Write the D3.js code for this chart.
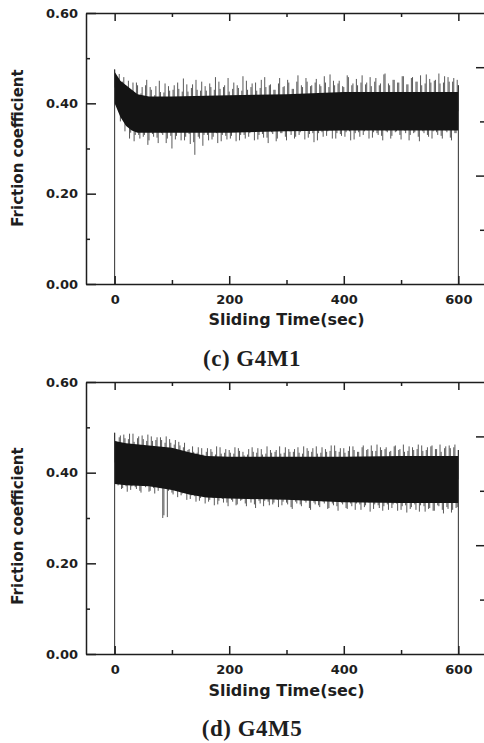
<!DOCTYPE html>
<html>
<head>
<meta charset="utf-8">
<script src="https://cdn.jsdelivr.net/npm/d3@7"></script>
<style>
    body { margin: 0; background: #fff; }
    .tick text { font-family: "DejaVu Sans", sans-serif; font-weight: bold; font-size: 13px; fill: #1e1e1e; }
    .axis path, .axis line { stroke: #1e1e1e; stroke-width: 1.5px; }
</style>
</head>
<body>
<div id="chart"></div>
<script>
// Tick values and captions
const xMajorTicks = [0, 200, 400, 600];
const xMinorTicks = [100, 300, 500];
const yMajorTicks = [0, 0.2, 0.4, 0.6];
const yMinorTicks = [0.1, 0.3, 0.5];
const neighbourMajorTicks = [0.2, 0.4];
const neighbourMinorTicks = [0.1, 0.3];
const captions = ["(c) G4M1", "(d) G4M5"];

// Friction trace.
// "a" readings at t = 0, 4, 8 ... 600 sec, "b" readings at t = 2, 6, 10 ... 598 sec
const sampleStep = 4;
const traceG4M1a = [
    0.475, 0.400, 0.465, 0.372, 0.458, 0.352, 0.450, 0.335, 0.446, 0.330,
    0.440, 0.322, 0.436, 0.330, 0.452, 0.318, 0.430, 0.326, 0.438, 0.312,
    0.425, 0.330, 0.444, 0.322, 0.428, 0.300, 0.440, 0.328, 0.432, 0.318,
    0.455, 0.326, 0.426, 0.310, 0.442, 0.286, 0.430, 0.322, 0.448, 0.330,
    0.428, 0.318, 0.436, 0.326, 0.458, 0.312, 0.432, 0.330, 0.440, 0.320,
    0.426, 0.328, 0.446, 0.316, 0.434, 0.330, 0.460, 0.322, 0.430, 0.334,
    0.444, 0.318, 0.428, 0.330, 0.452, 0.324, 0.436, 0.312, 0.442, 0.332,
    0.430, 0.322, 0.456, 0.334, 0.438, 0.318, 0.446, 0.330, 0.432, 0.326,
    0.462, 0.336, 0.436, 0.320, 0.448, 0.332, 0.440, 0.314, 0.454, 0.334,
    0.438, 0.326, 0.446, 0.338, 0.464, 0.322, 0.440, 0.334, 0.450, 0.328,
    0.436, 0.336, 0.458, 0.318, 0.444, 0.334, 0.440, 0.326, 0.462, 0.338,
    0.446, 0.322, 0.438, 0.336, 0.456, 0.330, 0.444, 0.318, 0.466, 0.336,
    0.440, 0.328, 0.452, 0.338, 0.446, 0.320, 0.460, 0.334, 0.442, 0.330,
    0.458, 0.336, 0.448, 0.316, 0.440, 0.334, 0.464, 0.326, 0.446, 0.338,
    0.452, 0.330, 0.444, 0.322, 0.460, 0.336, 0.448, 0.318, 0.456, 0.334,
    0.440
];
const traceG4M1b = [
    0.440, 0.455, 0.360, 0.448, 0.338, 0.436, 0.322, 0.428, 0.316, 0.446,
    0.330, 0.422, 0.326, 0.440, 0.308, 0.436, 0.332, 0.418, 0.324, 0.450,
    0.334, 0.424, 0.312, 0.438, 0.328, 0.430, 0.320, 0.446, 0.336, 0.426,
    0.318, 0.442, 0.332, 0.434, 0.314, 0.452, 0.326, 0.428, 0.306, 0.438,
    0.330, 0.444, 0.320, 0.430, 0.334, 0.448, 0.316, 0.436, 0.328, 0.456,
    0.322, 0.432, 0.336, 0.440, 0.318, 0.428, 0.330, 0.450, 0.326, 0.436,
    0.338, 0.446, 0.320, 0.434, 0.332, 0.458, 0.324, 0.440, 0.336, 0.430,
    0.316, 0.444, 0.334, 0.436, 0.326, 0.452, 0.338, 0.432, 0.322, 0.448,
    0.330, 0.440, 0.340, 0.456, 0.324, 0.438, 0.334, 0.446, 0.318, 0.442,
    0.336, 0.460, 0.328, 0.436, 0.340, 0.450, 0.322, 0.444, 0.332, 0.438,
    0.326, 0.462, 0.338, 0.440, 0.320, 0.454, 0.336, 0.446, 0.330, 0.442,
    0.340, 0.458, 0.324, 0.448, 0.334, 0.440, 0.328, 0.464, 0.338, 0.444,
    0.322, 0.452, 0.336, 0.446, 0.330, 0.460, 0.340, 0.442, 0.318, 0.456,
    0.334, 0.448, 0.326, 0.462, 0.338, 0.444, 0.330, 0.454, 0.322, 0.450,
    0.336, 0.466, 0.328, 0.446, 0.340, 0.458, 0.324, 0.448, 0.334, 0.452
];
const traceG4M5a = [
    0.488, 0.376, 0.478, 0.364, 0.484, 0.370, 0.474, 0.362, 0.486, 0.368,
    0.476, 0.360, 0.482, 0.372, 0.470, 0.358, 0.480, 0.366, 0.472, 0.360,
    0.478, 0.300, 0.466, 0.302, 0.474, 0.356, 0.462, 0.362, 0.468, 0.350,
    0.456, 0.356, 0.450, 0.342, 0.458, 0.348, 0.444, 0.338, 0.454, 0.346,
    0.446, 0.336, 0.452, 0.344, 0.440, 0.330, 0.456, 0.342, 0.444, 0.334,
    0.450, 0.340, 0.442, 0.328, 0.454, 0.338, 0.446, 0.332, 0.440, 0.342,
    0.456, 0.330, 0.444, 0.338, 0.452, 0.326, 0.442, 0.336, 0.450, 0.330,
    0.446, 0.340, 0.458, 0.328, 0.444, 0.334, 0.452, 0.324, 0.446, 0.336,
    0.456, 0.330, 0.442, 0.338, 0.454, 0.322, 0.446, 0.334, 0.458, 0.328,
    0.444, 0.336, 0.452, 0.320, 0.448, 0.332, 0.460, 0.326, 0.446, 0.334,
    0.454, 0.322, 0.448, 0.332, 0.458, 0.318, 0.446, 0.330, 0.456, 0.324,
    0.450, 0.334, 0.460, 0.320, 0.448, 0.328, 0.456, 0.316, 0.452, 0.330,
    0.446, 0.322, 0.458, 0.332, 0.450, 0.318, 0.462, 0.328, 0.448, 0.320,
    0.456, 0.330, 0.452, 0.314, 0.460, 0.326, 0.450, 0.320, 0.458, 0.316,
    0.452, 0.328, 0.462, 0.318, 0.454, 0.324, 0.460, 0.312, 0.456, 0.322,
    0.450
];
const traceG4M5b = [
    0.470, 0.372, 0.482, 0.366, 0.476, 0.358, 0.486, 0.370, 0.468, 0.364,
    0.480, 0.356, 0.474, 0.368, 0.484, 0.360, 0.470, 0.354, 0.478, 0.366,
    0.472, 0.306, 0.480, 0.360, 0.466, 0.352, 0.472, 0.346, 0.460, 0.354,
    0.466, 0.340, 0.452, 0.350, 0.446, 0.336, 0.456, 0.344, 0.440, 0.332,
    0.454, 0.340, 0.446, 0.328, 0.458, 0.338, 0.442, 0.334, 0.452, 0.326,
    0.444, 0.336, 0.456, 0.330, 0.448, 0.340, 0.438, 0.326, 0.452, 0.334,
    0.446, 0.322, 0.454, 0.332, 0.440, 0.338, 0.458, 0.328, 0.444, 0.334,
    0.450, 0.324, 0.442, 0.336, 0.456, 0.330, 0.446, 0.320, 0.452, 0.332,
    0.444, 0.326, 0.458, 0.334, 0.448, 0.318, 0.454, 0.330, 0.442, 0.324,
    0.456, 0.332, 0.446, 0.322, 0.460, 0.328, 0.448, 0.316, 0.454, 0.330,
    0.444, 0.320, 0.458, 0.326, 0.450, 0.332, 0.446, 0.318, 0.460, 0.328,
    0.452, 0.314, 0.448, 0.330, 0.462, 0.322, 0.450, 0.326, 0.456, 0.318,
    0.448, 0.330, 0.460, 0.316, 0.452, 0.326, 0.446, 0.312, 0.458, 0.324,
    0.450, 0.318, 0.462, 0.328, 0.448, 0.314, 0.456, 0.322, 0.460, 0.316,
    0.452, 0.326, 0.446, 0.310, 0.458, 0.320, 0.454, 0.318, 0.462, 0.324
];

// Dense core of the trace (upper and lower edge of the solid band)
const coreTimeG4M1 = [0, 10, 20, 30, 40, 60, 100, 200, 300, 400, 500, 600];
const coreUpperG4M1 = [0.470, 0.450, 0.440, 0.430, 0.420, 0.415, 0.415, 0.418, 0.420, 0.425, 0.425, 0.425];
const coreLowerG4M1 = [0.400, 0.370, 0.350, 0.340, 0.335, 0.335, 0.335, 0.335, 0.338, 0.340, 0.340, 0.340];
const coreTimeG4M5 = [0, 20, 60, 100, 130, 160, 200, 300, 400, 500, 600];
const coreUpperG4M5 = [0.470, 0.465, 0.460, 0.455, 0.445, 0.437, 0.435, 0.435, 0.435, 0.437, 0.437];
const coreLowerG4M5 = [0.375, 0.372, 0.370, 0.362, 0.352, 0.345, 0.343, 0.340, 0.335, 0.333, 0.333];

// Trace starts and ends at zero load
const startTime = 0;
const endTime = 600;

// Page and panel geometry
const pageWidth = 484;
const pageHeight = 743;
const plotLeft = 86;
const plotRight = 487;
const panels = [
    { top: 13, bottom: 284, traceA: traceG4M1a, traceB: traceG4M1b,
      coreTime: coreTimeG4M1, coreUpper: coreUpperG4M1, coreLower: coreLowerG4M1,
      yTitleCenter: 148, xTitleBase: 325, captionBase: 366, caption: captions[0] },
    { top: 382, bottom: 654, traceA: traceG4M5a, traceB: traceG4M5b,
      coreTime: coreTimeG4M5, coreUpper: coreUpperG4M5, coreLower: coreLowerG4M5,
      yTitleCenter: 526, xTitleBase: 696, captionBase: 736, caption: captions[1] }
];

const svg = d3.select("#chart")
    .append("svg")
    .attr("width", pageWidth)
    .attr("height", pageHeight);

const xScale = d3.scaleLinear()
    .domain([-50, 650])
    .range([plotLeft, plotRight]);

panels.forEach(p => createPanel(p));

function createPanel(p) {

    const yScale = d3.scaleLinear()
        .domain([0, 0.6])
        .range([p.bottom, p.top]);

    // the cropped neighbour panel only shows its ticks at the right edge
    const neighbourScale = d3.scaleLinear()
        .domain([0, 0.5])
        .range([p.bottom, p.top]);

    // middle of the core band, piecewise along time
    const coreMid = d3.scaleLinear()
        .domain(p.coreTime)
        .range(p.coreTime.map((t, i) => (p.coreUpper[i] + p.coreLower[i]) / 2));

    const g = svg.append("g");

    // raw readings as thin spikes out of the band
    const readings = p.traceA.map((v, i) => ({ t: i * sampleStep, v: v }))
        .concat(p.traceB.map((v, i) => ({ t: i * sampleStep + sampleStep / 2, v: v })));
    g.selectAll(".spike")
        .data(readings)
        .enter()
        .append("line")
        .attr("class", "spike")
        .attr("x1", d => xScale(d.t))
        .attr("x2", d => xScale(d.t))
        .attr("y1", d => yScale(coreMid(d.t)))
        .attr("y2", d => yScale(d.v))
        .attr("stroke", "#2e2e2e")
        .attr("stroke-width", 0.8);

    // solid core band
    const core = p.coreTime.map((t, i) => ({ t: t, hi: p.coreUpper[i], lo: p.coreLower[i] }));
    g.append("path")
        .datum(core)
        .attr("fill", "#141414")
        .attr("d", d3.area()
            .x(d => xScale(d.t))
            .y0(d => yScale(d.lo))
            .y1(d => yScale(d.hi)));

    // load-on and load-off edges of the trace
    const edges = [
        { t: startTime, v: p.traceA[0] },
        { t: endTime, v: p.traceA[p.traceA.length - 1] }
    ];
    g.selectAll(".edge")
        .data(edges)
        .enter()
        .append("line")
        .attr("class", "edge")
        .attr("x1", d => xScale(d.t))
        .attr("x2", d => xScale(d.t))
        .attr("y1", yScale(0))
        .attr("y2", d => yScale(d.v))
        .attr("stroke", "#2e2e2e")
        .attr("stroke-width", 1);

    // bottom axis
    g.append("g")
        .attr("class", "axis")
        .attr("transform", `translate(0, ${p.bottom})`)
        .call(d3.axisBottom(xScale).tickValues(xMajorTicks).tickSizeInner(-8).tickSizeOuter(0).tickPadding(11));
    g.append("g")
        .attr("class", "axis")
        .attr("transform", `translate(0, ${p.bottom})`)
        .call(d3.axisBottom(xScale).tickValues(xMinorTicks).tickSize(-4).tickFormat(""))
        .call(a => a.select(".domain").remove());

    // top axis
    g.append("g")
        .attr("class", "axis")
        .attr("transform", `translate(0, ${p.top})`)
        .call(d3.axisTop(xScale).tickValues(xMajorTicks).tickSizeInner(-8).tickSizeOuter(0).tickFormat(""));
    g.append("g")
        .attr("class", "axis")
        .attr("transform", `translate(0, ${p.top})`)
        .call(d3.axisTop(xScale).tickValues(xMinorTicks).tickSize(-4).tickFormat(""))
        .call(a => a.select(".domain").remove());

    // left axis
    g.append("g")
        .attr("class", "axis")
        .attr("transform", `translate(${plotLeft}, 0)`)
        .call(d3.axisLeft(yScale).tickValues(yMajorTicks).tickSizeInner(-10).tickSizeOuter(0)
            .tickPadding(8).tickFormat(d3.format(".2f")));
    g.append("g")
        .attr("class", "axis")
        .attr("transform", `translate(${plotLeft}, 0)`)
        .call(d3.axisLeft(yScale).tickValues(yMinorTicks).tickSize(-4).tickFormat(""))
        .call(a => a.select(".domain").remove());

    // neighbour ticks at the right edge
    g.append("g")
        .attr("class", "axis")
        .attr("transform", `translate(${plotRight + 1}, 0)`)
        .call(d3.axisLeft(neighbourScale).tickValues(neighbourMajorTicks).tickSize(12).tickFormat(""))
        .call(a => a.select(".domain").remove());
    g.append("g")
        .attr("class", "axis")
        .attr("transform", `translate(${plotRight + 1}, 0)`)
        .call(d3.axisLeft(neighbourScale).tickValues(neighbourMinorTicks).tickSize(8).tickFormat(""))
        .call(a => a.select(".domain").remove());

    // axis titles
    g.append("text")
        .attr("x", (xScale(0) + xScale(600)) / 2)
        .attr("y", p.xTitleBase)
        .attr("text-anchor", "middle")
        .style("font-family", "DejaVu Sans, sans-serif")
        .style("font-weight", "bold")
        .style("font-size", "16px")
        .style("fill", "#1e1e1e")
        .text("Sliding Time(sec)");

    g.append("text")
        .attr("transform", `translate(23, ${p.yTitleCenter}) rotate(-90)`)
        .attr("text-anchor", "middle")
        .style("font-family", "DejaVu Sans, sans-serif")
        .style("font-weight", "bold")
        .style("font-size", "15px")
        .style("fill", "#1e1e1e")
        .text("Friction coefficient");

    // caption
    g.append("text")
        .attr("x", 252)
        .attr("y", p.captionBase)
        .attr("text-anchor", "middle")
        .style("font-family", "Liberation Serif, serif")
        .style("font-weight", "bold")
        .style("font-size", "23px")
        .style("letter-spacing", "0.5px")
        .style("fill", "#1e1e1e")
        .text(p.caption);
}
</script>
</body>
</html>
